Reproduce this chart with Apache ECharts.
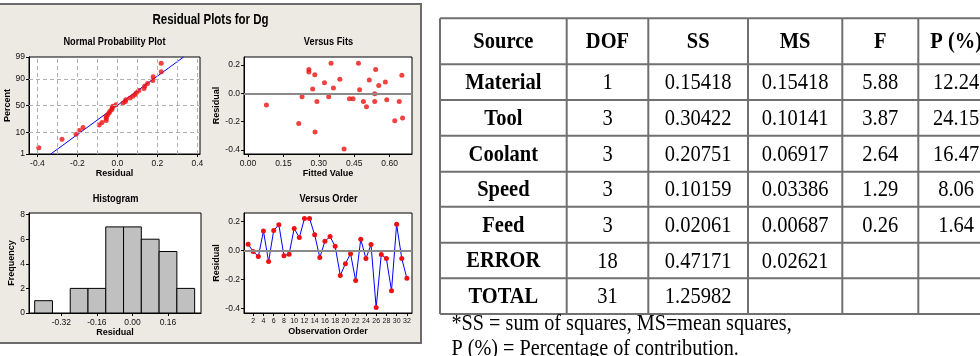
<!DOCTYPE html>
<html><head><meta charset="utf-8">
<script src="https://cdn.jsdelivr.net/npm/echarts@6/dist/echarts.min.js"></script>
<style>html,body{margin:0;padding:0;background:#fff}#c{width:980px;height:356px}</style>
</head><body><div id="c"></div><script>
// ---------------- data ----------------
const observationOrder = [1,2,3,4,5,6,7,8,9,10,11,12,13,14,15,16,17,18,19,20,21,22,23,24,25,26,27,28,29,30,31,32];
const residualsByOrder = [0.042,-0.007,-0.042,0.133,-0.077,0.137,0.177,-0.037,-0.026,0.151,0.088,0.219,0.219,0.107,-0.049,0.063,0.095,0.028,-0.172,-0.091,-0.023,-0.207,0.077,-0.056,0.040,-0.393,-0.028,-0.056,-0.277,0.179,-0.056,-0.191];
const fittedValues = [0.078,0.215,0.229,0.258,0.258,0.283,0.274,0.284,0.292,0.324,0.342,0.352,0.362,0.389,0.407,0.430,0.445,0.468,0.473,0.489,0.502,0.514,0.537,0.537,0.541,0.554,0.582,0.588,0.622,0.641,0.652,0.655];
const fitResiduals = [-0.083,-0.212,-0.024,0.169,0.150,0.131,0.030,-0.273,-0.057,0.075,-0.024,0.212,0.037,0.099,-0.393,-0.038,-0.038,0.212,0.026,-0.057,-0.094,0.094,-0.003,-0.057,0.169,0.056,0.080,-0.045,-0.193,-0.057,0.127,-0.174];
const histBinMids = [-0.40,-0.32,-0.24,-0.16,-0.08,0.00,0.08,0.16,0.24];
const histCounts = [1,0,2,2,7,7,6,5,2];
const histBinWidth = 0.08;

// tick labels
const nppPercentTicks = [1,10,50,90,99];
const nppPercentGrid = [10,50,90];
const nppResidualTicks = [-0.4,-0.2,0,0.2,0.4];
const nppResidualGrid = [-0.4,-0.3,-0.2,-0.1,0,0.1,0.2,0.3,0.4];
const fitTicks = [0,0.15,0.30,0.45,0.60];
const residualTicks = [-0.4,-0.2,0,0.2];
const histXTicks = [-0.32,-0.16,0,0.16];
const histYTicks = [0,2,4,6,8];
const orderTicks = [2,4,6,8,10,12,14,16,18,20,22,24,26,28,30,32];

// table
const tableHeaders = ['Source','DOF','SS','MS','F','P (%)'];
const tableSources = ['Material','Tool','Coolant','Speed','Feed','ERROR','TOTAL'];
const tableDOF = ['1','3','3','3','3','18','31'];
const tableSS = ['0.15418','0.30422','0.20751','0.10159','0.02061','0.47171','1.25982'];
const tableMS = ['0.15418','0.10141','0.06917','0.03386','0.00687','0.02621',''];
const tableF = ['5.88','3.87','2.64','1.29','0.26','',''];
const tableP = ['12.24','24.15','16.47','8.06','1.64','',''];
const footnotes = ['*SS = sum of squares, MS=mean squares,','P (%) = Percentage of contribution.'];

// ---------------- helpers ----------------
function normInv(p){
 const a=[-3.969683028665376e+01,2.209460984245205e+02,-2.759285104469687e+02,1.383577518672690e+02,-3.066479806614716e+01,2.506628277459239e+00];
 const b=[-5.447609879822406e+01,1.615858368580409e+02,-1.556989798598866e+02,6.680131188771972e+01,-1.328068155288572e+01];
 const c=[-7.784894002430293e-03,-3.223964580411365e-01,-2.400758277161838e+00,-2.549671669252358e+00,4.374664141464968e+00,2.938163982698783e+00];
 const d=[7.784695709041462e-03,3.224671290700398e-01,2.445134137142996e+00,3.754408661907416e+00];
 const pl=0.02425, ph=1-pl; let q,r;
 if(p<pl){q=Math.sqrt(-2*Math.log(p));return (((((c[0]*q+c[1])*q+c[2])*q+c[3])*q+c[4])*q+c[5])/((((d[0]*q+d[1])*q+d[2])*q+d[3])*q+1);}
 if(p<=ph){q=p-0.5;r=q*q;return (((((a[0]*r+a[1])*r+a[2])*r+a[3])*r+a[4])*r+a[5])*q/(((((b[0]*r+b[1])*r+b[2])*r+b[3])*r+b[4])*r+1);}
 q=Math.sqrt(-2*Math.log(1-p));return -(((((c[0]*q+c[1])*q+c[2])*q+c[3])*q+c[4])*q+c[5])/((((d[0]*q+d[1])*q+d[2])*q+d[3])*q+1);
}
const SANS = "'Liberation Sans',Arial,sans-serif";
const SERIF = "'Liberation Serif','Times New Roman',serif";
const RED = '#EE1111', BLUE = '#0000FF';

const n = residualsByOrder.length;
const sorted = residualsByOrder.slice().sort((x,y)=>x-y);
const nppPoints = sorted.map((v,i)=>[v, normInv((i+1-0.3)/(n+0.4))]);
const mean = residualsByOrder.reduce((s,v)=>s+v,0)/n;
const sd = Math.sqrt(residualsByOrder.reduce((s,v)=>s+(v-mean)*(v-mean),0)/(n-1));
const zMin = normInv(0.01), zMax = normInv(0.99);
const pctToZ = {}; nppPercentTicks.forEach(p=>{pctToZ[p]=normInv(p/100);});

function axis(o){
  return Object.assign({
    type:'value', gridIndex:o.g, min:o.min, max:o.max, scale:false,
    name:o.name, nameLocation:'middle', nameGap:o.nameGap,
    nameTextStyle:{fontFamily:SANS,fontWeight:'bold',fontSize:9,color:'#000'},
    axisLine:{show:true,onZero:false,lineStyle:{color:'#000',width:1}},
    axisTick:{show:true,inside:false,length:3,customValues:o.ticks,lineStyle:{color:'#000'}},
    axisLabel:{show:true,customValues:o.ticks,formatter:o.fmt,margin:o.margin||5,fontFamily:SANS,fontSize:o.fs||8.5,color:'#111'},
    splitLine:{show:false}
  }, o.extra||{});
}
const f1 = v=>v.toFixed(1), f2 = v=>v.toFixed(2), fi = v=>String(Math.round(v));
const pctFmt = v=>{let best=nppPercentTicks[0];nppPercentTicks.forEach(p=>{if(Math.abs(pctToZ[p]-v)<Math.abs(pctToZ[best]-v))best=p;});return String(best);};

const gridBase = {show:true, backgroundColor:'#fff', borderColor:'#000', borderWidth:1, containLabel:false, outerBoundsMode:'none'};
const grids = [
  Object.assign({left:29, top:57, width:171, height:97}, gridBase),
  Object.assign({left:244, top:57, width:168, height:97}, gridBase),
  Object.assign({left:29, top:213, width:172, height:100}, gridBase),
  Object.assign({left:244, top:213, width:168, height:100}, gridBase)
];

const xAxes = [
  axis({g:0,min:-0.442,max:0.413,ticks:nppResidualTicks,fmt:f1,name:'Residual',nameGap:15}),
  axis({g:1,min:-0.017,max:0.695,ticks:fitTicks,fmt:f2,name:'Fitted Value',nameGap:15}),
  axis({g:2,min:-0.4656,max:0.3086,ticks:histXTicks,fmt:f2,name:'Residual',nameGap:15}),
  axis({g:3,min:0.2,max:33,ticks:orderTicks,fmt:fi,name:'Observation Order',nameGap:14,fs:7})
];
const yAxes = [
  axis({g:0,min:zMin,max:zMax,ticks:nppPercentTicks.map(p=>pctToZ[p]),fmt:pctFmt,name:'Percent',nameGap:14,margin:4}),
  axis({g:1,min:-0.428,max:0.2565,ticks:residualTicks,fmt:f1,name:'Residual',nameGap:18,margin:4}),
  axis({g:2,min:0,max:8.13,ticks:histYTicks,fmt:fi,name:'Frequency',nameGap:11,margin:4}),
  axis({g:3,min:-0.43,max:0.257,ticks:residualTicks,fmt:f1,name:'Residual',nameGap:18,margin:4})
];

const dashed = {color:'#b0b0b0',type:[4,3],width:1};
const series = [
  {type:'line', xAxisIndex:0, yAxisIndex:0, data:[], z:1, silent:true,
   markLine:{silent:true,symbol:'none',label:{show:false},lineStyle:dashed,animation:false,
     data:nppResidualGrid.map(v=>({xAxis:v})).concat(nppPercentGrid.map(p=>({yAxis:normInv(p/100)})))}},
  {type:'line', xAxisIndex:0, yAxisIndex:0, z:2, symbol:'none', lineStyle:{color:BLUE,width:1},
   data:[[mean+sd*zMin,zMin],[mean+sd*zMax,zMax]]},
  {type:'scatter', xAxisIndex:0, yAxisIndex:0, z:3, symbolSize:5, itemStyle:{color:RED}, data:nppPoints},
  {type:'scatter', xAxisIndex:1, yAxisIndex:1, z:3, symbolSize:5, itemStyle:{color:RED},
   data:fittedValues.map((f,i)=>[f,fitResiduals[i]]),
   markLine:{silent:true,symbol:'none',label:{show:false},lineStyle:{color:'#8a8a8a',width:2,type:'solid'},animation:false,data:[{yAxis:0}]}},
  {type:'custom', xAxisIndex:2, yAxisIndex:2, z:2,
   data:histBinMids.map((m,i)=>[m,histCounts[i]]),
   renderItem:(params,api)=>{
     const mid=api.value(0), cnt=api.value(1);
     if(!cnt) return null;
     const p0=api.coord([mid-histBinWidth/2,0]), p1=api.coord([mid+histBinWidth/2,cnt]);
     return {type:'rect',shape:{x:p0[0],y:p1[1],width:p1[0]-p0[0],height:p0[1]-p1[1]},
       style:{fill:'#C0C0C0',stroke:'#000',lineWidth:1}};
   }},
  {type:'line', xAxisIndex:3, yAxisIndex:3, z:3, symbol:'circle', symbolSize:5, showAllSymbol:true,
   itemStyle:{color:RED}, lineStyle:{color:BLUE,width:1},
   data:observationOrder.map((o,i)=>[o,residualsByOrder[i]]),
   markLine:{silent:true,symbol:'none',label:{show:false},lineStyle:{color:'#8a8a8a',width:2,type:'solid'},animation:false,data:[{yAxis:0}]}}
];

// ---------------- graphic: panel, titles, table ----------------
const g = [];
g.push({type:'rect', z:-10, shape:{x:-5,y:4,width:426,height:339}, style:{fill:'#EDEAE4',stroke:'#6b6b6b',lineWidth:2}, silent:true});
function txt(t,x,y,font,align,extra){
  return Object.assign({type:'text', x:x, y:y, z:20, silent:true,
    style:{text:t,x:0,y:0,font:font,fill:'#000',textAlign:align||'center',textVerticalAlign:'middle',align:align||'center',verticalAlign:'middle'}}, extra||{});
}
g.push(txt('Residual Plots for Dg',210.5,20,"bold 14px "+SANS,'center',{scaleX:0.82}));
g.push(txt('Normal Probability Plot',114.5,42,"bold 11px "+SANS,'center',{scaleX:0.84}));
g.push(txt('Versus Fits',328.5,42,"bold 11px "+SANS,'center',{scaleX:0.84}));
g.push(txt('Histogram',115.5,199,"bold 11px "+SANS,'center',{scaleX:0.84}));
g.push(txt('Versus Order',328.5,199,"bold 11px "+SANS,'center',{scaleX:0.84}));

const colEdges = [440,566.7,648.3,748,842.3,918.3,994];
const rowEdges = [18.3,64.3,100,135.7,171.7,206.7,242.7,278.3,314];
const lineColor = '#707070';
rowEdges.forEach(y=>g.push({type:'line',z:15,silent:true,shape:{x1:colEdges[0],y1:y,x2:colEdges[colEdges.length-1],y2:y},style:{stroke:lineColor,lineWidth:2}}));
colEdges.forEach(x=>g.push({type:'line',z:15,silent:true,shape:{x1:x,y1:rowEdges[0],x2:x,y2:rowEdges[rowEdges.length-1]},style:{stroke:lineColor,lineWidth:2}}));
const cx = i=>(colEdges[i]+colEdges[i+1])/2;
const cy = j=>(rowEdges[j]+rowEdges[j+1])/2;
const boldF = "bold 20.5px "+SERIF, regF = "20.5px "+SERIF;
const sc = {scaleY:1.13};
tableHeaders.forEach((h,i)=>g.push(txt(h,cx(i),cy(0)+1,boldF,'center',sc)));
const cols = [tableSources,tableDOF,tableSS,tableMS,tableF,tableP];
cols.forEach((col,i)=>col.forEach((v,j)=>{ if(v) g.push(txt(v,cx(i),cy(j+1)+1,i===0?boldF:regF,'center',sc)); }));
g.push(txt(footnotes[0],451.5,323.5,regF,'left',{scaleY:1.13,scaleX:0.985}));
g.push(txt(footnotes[1],451.5,348.5,regF,'left',{scaleY:1.13,scaleX:0.985}));

const chart = echarts.init(document.getElementById('c'), null, {renderer:'canvas'});
chart.setOption({
  animation:false,
  backgroundColor:'#ffffff',
  grid:grids, xAxis:xAxes, yAxis:yAxes, series:series, graphic:{elements:g}
});
</script></body></html>
